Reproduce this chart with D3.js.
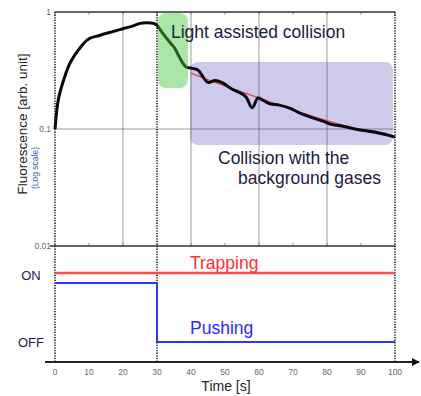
<!DOCTYPE html>
<html>
<head>
<meta charset="utf-8">
<script src="https://cdn.jsdelivr.net/npm/d3@7"></script>
<style>
  html, body { margin: 0; padding: 0; background: #fff; }
  svg { display: block; }
  text { font-family: "Liberation Sans", Arial, Helvetica, sans-serif; }
</style>
</head>
<body>
<svg id="chart" width="421" height="396"></svg>
<script>
// ---------- data ----------
const times = [0, 1, 2.5, 4.5, 7.5, 10, 13, 17, 20, 23, 25, 27, 29, 30, 31, 34, 35, 38.5, 40.5, 42, 45, 47, 49, 52, 56, 58, 59.7, 61, 63, 66, 69, 72, 75, 79, 81, 85, 89, 92, 95, 99, 100];
const fluorescence = [0.10, 0.18, 0.26, 0.37, 0.50, 0.59, 0.63, 0.68, 0.72, 0.76, 0.80, 0.81, 0.80, 0.77, 0.70, 0.54, 0.50, 0.34, 0.33, 0.32, 0.25, 0.26, 0.25, 0.22, 0.19, 0.152, 0.184, 0.177, 0.165, 0.160, 0.151, 0.137, 0.127, 0.116, 0.110, 0.105, 0.099, 0.096, 0.093, 0.087, 0.085];
const fitTimes = [40, 46, 56, 71, 90, 100];
const fitValues = [0.30, 0.257, 0.203, 0.142, 0.098, 0.085];
const trappingTimes = [0, 100];
const trappingState = [1.03, 1.03];
const pushingTimes = [0, 30, 30, 100];
const pushingState = [0.88, 0.88, 0, 0];
const xTicks = [0, 10, 20, 30, 40, 50, 60, 70, 80, 90, 100];
const yTicks = [1, 0.1, 0.01];
const yTickLabels = ["1", "0.1", "0.01"];
const gridTimes = [20, 40, 60, 80];
const markerTimes = [0, 30, 100];
const stateLabels = ["ON", "OFF"];
const stateValues = [1, 0];
const lightRegionT = [30.3, 39.1];
const lightRegionV = [0.224, 0.98];
const bgRegionT = [39.7, 99.4];
const bgRegionV = [0.073, 0.374];

// ---------- scales ----------
const svg = d3.select("#chart");
const x = d3.scaleLinear().domain([0, 100]).range([55, 395]);
const y = d3.scaleLog().domain([0.01, 1]).range([246, 12]);
const s = d3.scaleLinear().domain([0, 1]).range([342, 275]);
const axisY = 362;

// background-gas region (behind data)
svg.append("rect")
  .attr("x", x(bgRegionT[0])).attr("y", y(bgRegionV[1]))
  .attr("width", x(bgRegionT[1]) - x(bgRegionT[0]))
  .attr("height", y(bgRegionV[0]) - y(bgRegionV[1]))
  .attr("rx", 8).attr("fill", "rgb(206,202,236)");

// grid
svg.append("g").selectAll("line").data(gridTimes).join("line")
  .attr("x1", d => x(d)).attr("x2", d => x(d))
  .attr("y1", y(1)).attr("y2", y(0.01))
  .attr("stroke", "#555").attr("stroke-opacity", 0.65).attr("stroke-width", 0.9);
svg.append("line").attr("x1", x(0)).attr("x2", x(100))
  .attr("y1", y(0.1)).attr("y2", y(0.1))
  .attr("stroke", "#555").attr("stroke-opacity", 0.65).attr("stroke-width", 0.9);

// minor ticks on top/bottom borders
svg.append("g").selectAll("line").data(xTicks).join("line")
  .attr("x1", d => x(d)).attr("x2", d => x(d))
  .attr("y1", y(1)).attr("y2", y(1) + 3)
  .attr("stroke", "#777").attr("stroke-width", 0.8);
svg.append("g").selectAll("line").data(xTicks).join("line")
  .attr("x1", d => x(d)).attr("x2", d => x(d))
  .attr("y1", y(0.01)).attr("y2", y(0.01) - 3)
  .attr("stroke", "#777").attr("stroke-width", 0.8);

// fit line
svg.append("path")
  .datum(d3.zip(fitTimes, fitValues))
  .attr("d", d3.line().x(d => x(d[0])).y(d => y(d[1])).curve(d3.curveMonotoneX))
  .attr("fill", "none").attr("stroke", "#e8404a").attr("stroke-width", 1.3);

// data curve
const line = d3.line().x(d => x(d[0])).y(d => y(d[1])).curve(d3.curveCatmullRom.alpha(0.5));
svg.append("path")
  .datum(d3.zip(times, fluorescence))
  .attr("d", line)
  .attr("fill", "none").attr("stroke", "#080810").attr("stroke-width", 3)
  .attr("stroke-linejoin", "round");

// light-assisted region (over data)
svg.append("rect")
  .attr("x", x(lightRegionT[0])).attr("y", y(lightRegionV[1]))
  .attr("width", x(lightRegionT[1]) - x(lightRegionT[0]))
  .attr("height", y(lightRegionV[0]) - y(lightRegionV[1]))
  .attr("rx", 8).attr("fill", "rgb(70,200,60)").attr("fill-opacity", 0.45);

// panel borders
svg.append("line").attr("x1", x(0)).attr("x2", x(100))
  .attr("y1", y(1)).attr("y2", y(1))
  .attr("stroke", "#333").attr("stroke-width", 1.5);
svg.append("line").attr("x1", x(0) - 5).attr("x2", x(100))
  .attr("y1", y(0.01)).attr("y2", y(0.01))
  .attr("stroke", "#333").attr("stroke-width", 1.5);

// dotted markers
svg.append("g").selectAll("line").data(markerTimes).join("line")
  .attr("x1", d => x(d)).attr("x2", d => x(d))
  .attr("y1", y(1)).attr("y2", axisY)
  .attr("stroke", "#222").attr("stroke-width", 1.6)
  .attr("stroke-dasharray", "1.3,1.3");

// y tick labels
svg.append("g").selectAll("text").data(yTicks).join("text")
  .attr("x", x(0) - 4).attr("y", d => y(d))
  .attr("dy", "0.35em").attr("text-anchor", "end")
  .attr("font-size", 8.5).attr("fill", "#666")
  .text((d, i) => yTickLabels[i]);

// y titles
svg.append("text")
  .attr("transform", "translate(27,124) rotate(-90)")
  .attr("text-anchor", "middle").attr("font-size", 13.5).attr("fill", "#222")
  .text("Fluorescence [arb. unit]");
svg.append("text")
  .attr("transform", "translate(38,168) rotate(-90)")
  .attr("text-anchor", "middle").attr("font-size", 8.5).attr("fill", "#3a5fc0")
  .text("(Log scale)");

// state lines
svg.append("path")
  .datum(d3.zip(trappingTimes, trappingState))
  .attr("d", d3.line().x(d => x(d[0])).y(d => s(d[1])))
  .attr("fill", "none").attr("stroke", "#ff4a4a").attr("stroke-width", 2.6);
svg.append("path")
  .datum(d3.zip(pushingTimes, pushingState))
  .attr("d", d3.line().x(d => x(d[0])).y(d => s(d[1])))
  .attr("fill", "none").attr("stroke", "#3434ff").attr("stroke-width", 2);

// state labels
svg.append("g").selectAll("text").data(stateLabels).join("text")
  .attr("x", 31).attr("y", (d, i) => s(stateValues[i]))
  .attr("dy", "0.35em").attr("text-anchor", "middle")
  .attr("font-size", 13).attr("fill", "#1c1c4a")
  .text(d => d);

// bottom axis with arrow
svg.append("defs").append("marker")
  .attr("id", "arrow").attr("viewBox", "0 0 10 10")
  .attr("refX", 9).attr("refY", 5)
  .attr("markerWidth", 4).attr("markerHeight", 4)
  .attr("markerUnits", "strokeWidth")
  .attr("orient", "auto")
  .append("path").attr("d", "M0,0L10,5L0,10Z").attr("fill", "#111");
svg.append("line").attr("x1", 45).attr("x2", 419)
  .attr("y1", axisY).attr("y2", axisY)
  .attr("stroke", "#222").attr("stroke-width", 2)
  .attr("marker-end", "url(#arrow)");
svg.append("g").selectAll("text").data(xTicks).join("text")
  .attr("x", d => x(d)).attr("y", axisY + 10)
  .attr("dy", "0.35em").attr("text-anchor", "middle")
  .attr("font-size", 8.5).attr("fill", "#666")
  .text(d => d);
svg.append("text").attr("x", 226).attr("y", 391)
  .attr("text-anchor", "middle").attr("font-size", 14).attr("fill", "#222")
  .text("Time [s]");

// annotations
const annFont = 17.5;
svg.append("text").attr("x", 171).attr("y", 38)
  .attr("font-size", annFont).attr("fill", "#1c1c3c")
  .text("Light assisted collision");
svg.append("text").attr("x", 218).attr("y", 164)
  .attr("font-size", annFont).attr("fill", "#1c1c3c")
  .text("Collision with the");
svg.append("text").attr("x", 238).attr("y", 184)
  .attr("font-size", annFont).attr("fill", "#1c1c3c")
  .text("background gases");
svg.append("text").attr("x", 190).attr("y", 269)
  .attr("font-size", annFont).attr("fill", "#ff3030")
  .text("Trapping");
svg.append("text").attr("x", 190).attr("y", 334)
  .attr("font-size", annFont).attr("fill", "#2a2aff")
  .text("Pushing");
</script>
</body>
</html>
